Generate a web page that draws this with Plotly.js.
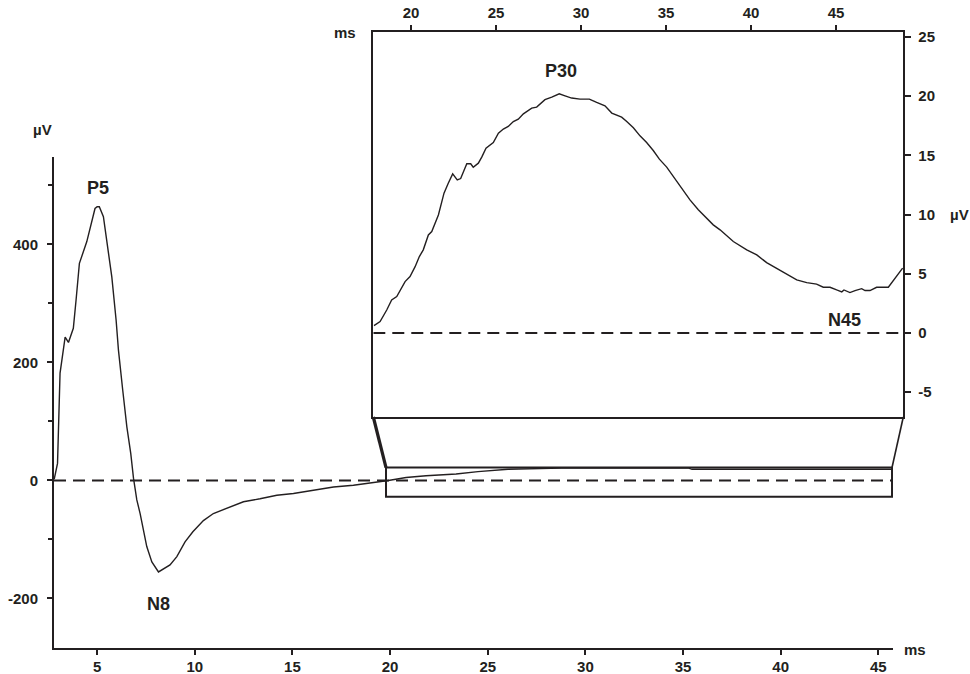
<!DOCTYPE html>
<html>
<head>
<meta charset="utf-8">
<script src="https://cdn.plot.ly/plotly-3.0.1.min.js"></script>
<style>
  html, body { margin: 0; padding: 0; background: #ffffff; }
  #chart { width: 970px; height: 674px; }
  #chart .xtick text, #chart .ytick text, #chart .x2tick text, #chart .y2tick text { font-weight: 700 !important; }
</style>
</head>
<body>
<div id="chart"></div>
<script>
// ---------------- data ----------------
// Main trace: latency (ms) and amplitude (µV)
const mainTime = [2.8, 2.97, 3.1, 3.19, 3.36, 3.53, 3.78, 3.92, 4.09, 4.47, 4.89, 5.0, 5.11, 5.32, 5.52, 5.75, 5.97, 6.09, 6.31, 6.52, 6.72, 6.86, 7.03, 7.2, 7.54, 7.8, 8.14, 8.73, 9.08, 9.5, 9.9, 10.44, 10.95, 11.64, 12.49, 13.34, 14.2, 15.05, 16.07, 17.1, 18.12, 19.15, 19.91, 20.82, 21.84, 23.38, 24.5, 26.04, 28.8, 35.29, 35.46, 45.7];
const mainAmp  = [2, 29, 182, 201, 243, 234, 258, 306, 368, 405, 461, 464, 464, 447, 402, 345, 272, 221, 153, 91, 46, 4, -33, -56, -112, -138, -155, -143, -129, -104, -87, -68, -56, -47, -36, -31, -25, -22, -16, -11, -8, -4, 0, 5, 8, 11, 15, 19, 21, 21, 19, 19];

// Inset trace (zoomed late components)
const insetTime = [17.82, 18.18, 18.57, 18.86, 19.16, 19.65, 19.94, 20.24, 20.49, 20.72, 21.02, 21.22, 21.61, 21.94, 22.19, 22.45, 22.72, 22.92, 23.28, 23.51, 23.66, 23.96, 24.16, 24.41, 24.84, 25.14, 25.43, 25.72, 26.02, 26.31, 26.61, 27.1, 27.39, 27.88, 28.28, 28.72, 29.06, 29.45, 29.94, 30.49, 30.92, 31.41, 31.81, 32.39, 32.69, 33.08, 33.47, 33.86, 34.25, 34.61, 35.04, 35.43, 35.82, 36.41, 36.9, 37.35, 37.78, 38.18, 38.66, 38.96, 39.75, 40.34, 40.92, 41.51, 42.1, 42.69, 43.28, 43.86, 44.25, 44.65, 45.04, 45.34, 45.47, 45.82, 46.12, 46.51, 46.71, 47.0, 47.39, 48.08, 48.92];
const insetAmp  = [0.62, 0.96, 1.94, 2.79, 3.07, 4.34, 4.76, 5.6, 6.45, 7.02, 8.28, 8.56, 9.97, 11.81, 12.65, 13.44, 12.93, 13.04, 14.29, 14.29, 14.0, 14.34, 14.85, 15.61, 16.09, 16.88, 17.22, 17.44, 17.86, 18.06, 18.51, 18.99, 19.08, 19.7, 19.92, 20.2, 20.03, 19.84, 19.75, 19.75, 19.47, 19.19, 18.57, 18.23, 17.86, 17.33, 16.65, 16.09, 15.41, 14.68, 14.01, 13.21, 12.43, 11.24, 10.4, 9.78, 9.13, 8.71, 8.14, 7.72, 7.02, 6.59, 5.94, 5.47, 4.99, 4.48, 4.25, 4.12, 3.86, 3.86, 3.63, 3.47, 3.63, 3.41, 3.58, 3.74, 3.58, 3.58, 3.86, 3.86, 5.47];

// Tick labels
const mainXTicks  = [5, 10, 15, 20, 25, 30, 35, 40, 45];
const mainYTicks  = [-200, 0, 200, 400];
const insetXTicks = [20, 25, 30, 35, 40, 45];
const insetYTicks = [-5, 0, 5, 10, 15, 20, 25];

// Peak labels
const peakNames = ['P5', 'N8'];
const peakX = [5.05, 8.12];
const peakY = [496, -209];
const insetPeakNames = ['P30', 'N45'];
const insetPeakX = [28.82, 45.53];
const insetPeakY = [22.15, 1.1];

// Zoom window shown on the main trace
const zoomX = [19.79, 45.7];
const zoomY = [-27.5, 22];

// ---------------- layout ----------------
const INK = '#231f20';
const FONT = 'Liberation Sans, Arial, Helvetica, sans-serif';
const tickFont = {family: FONT, size: 15, color: INK, weight: 700};
const labelFont = {family: FONT, size: 18, color: INK, weight: 700};
const unitFont = {family: FONT, size: 15, color: INK, weight: 700};

const mainRangeX = [2.79, 45.75];
const mainRangeY = [-283.9, 548.3];
const mainDomX = [0, 0.98014];
const mainDomY = [0, 0.79708];
const insetRangeX = [17.78, 48.96];
const insetRangeY = [-7.1, 25.42];
const insetDomX = [0.37301, 0.99217];
const insetDomY = [0.375, 1.0];

function toPaperX(v) {
  return mainDomX[0] + (v - mainRangeX[0]) / (mainRangeX[1] - mainRangeX[0]) * (mainDomX[1] - mainDomX[0]);
}
function toPaperY(v) {
  return mainDomY[0] + (v - mainRangeY[0]) / (mainRangeY[1] - mainRangeY[0]) * (mainDomY[1] - mainDomY[0]);
}

const traces = [
  {x: mainTime, y: mainAmp, xaxis: 'x', yaxis: 'y', type: 'scatter', mode: 'lines',
   line: {color: INK, width: 1.4}, hoverinfo: 'skip'},
  {x: insetTime, y: insetAmp, xaxis: 'x2', yaxis: 'y2', type: 'scatter', mode: 'lines',
   line: {color: INK, width: 1.4}, hoverinfo: 'skip'}
];

const annotations = [];
peakNames.forEach((n, i) => annotations.push({
  text: n, x: peakX[i], y: peakY[i], xref: 'x', yref: 'y', showarrow: false,
  font: labelFont, xanchor: 'center', yanchor: 'middle'
}));
insetPeakNames.forEach((n, i) => annotations.push({
  text: n, x: insetPeakX[i], y: insetPeakY[i], xref: 'x2', yref: 'y2', showarrow: false,
  font: labelFont, xanchor: 'center', yanchor: 'middle'
}));
annotations.push(
  {text: 'µV', x: -0.014, y: 0.841, xref: 'paper', yref: 'paper', showarrow: false, font: unitFont, xanchor: 'center', yanchor: 'middle'},
  {text: 'ms', x: 1.0058, y: -0.003, xref: 'paper', yref: 'paper', showarrow: false, font: unitFont, xanchor: 'center', yanchor: 'middle'},
  {text: 'ms', x: 0.34, y: 1.0, xref: 'paper', yref: 'paper', showarrow: false, font: unitFont, xanchor: 'center', yanchor: 'middle'},
  {text: 'µV', x: 1.058, y: 0.7045, xref: 'paper', yref: 'paper', showarrow: false, font: unitFont, xanchor: 'center', yanchor: 'middle'}
);

const shapes = [
  // main zero line
  {type: 'line', xref: 'x', yref: 'y', x0: mainRangeX[0], x1: zoomX[1], y0: 0, y1: 0,
   line: {color: INK, width: 2, dash: '12px,7px'}},
  // inset zero line
  {type: 'line', xref: 'x2', yref: 'y2', x0: insetRangeX[0], x1: insetRangeX[1], y0: 0, y1: 0,
   line: {color: INK, width: 2, dash: '12px,7px'}},
  // zoom window
  {type: 'rect', xref: 'x', yref: 'y', x0: zoomX[0], x1: zoomX[1], y0: zoomY[0], y1: zoomY[1],
   line: {color: INK, width: 2}},
  // connectors
  {type: 'line', xref: 'paper', yref: 'paper', x0: insetDomX[0], y0: insetDomY[0],
   x1: toPaperX(zoomX[0]), y1: toPaperY(zoomY[1]), line: {color: INK, width: 3.2}},
  {type: 'line', xref: 'paper', yref: 'paper', x0: insetDomX[1], y0: insetDomY[0],
   x1: toPaperX(zoomX[1]), y1: toPaperY(zoomY[1]), line: {color: INK, width: 1.6}}
];

const layout = {
  width: 970, height: 674,
  margin: {l: 54, r: 60, t: 32, b: 26, pad: 0},
  paper_bgcolor: '#ffffff', plot_bgcolor: 'rgba(0,0,0,0)',
  showlegend: false, hovermode: false,
  font: tickFont,
  xaxis: {
    domain: mainDomX, range: mainRangeX, anchor: 'y',
    tickmode: 'array', tickvals: mainXTicks, ticktext: mainXTicks.map(String),
    ticks: 'outside', ticklen: 5, tickwidth: 2, tickcolor: INK,
    showline: true, linewidth: 2, linecolor: INK,
    showgrid: false, zeroline: false, tickfont: tickFont, ticklabelstandoff: -1
  },
  yaxis: {
    domain: mainDomY, range: mainRangeY, anchor: 'x',
    tickmode: 'array', tickvals: mainYTicks, ticktext: mainYTicks.map(String),
    ticks: 'outside', ticklen: 5, tickwidth: 2, tickcolor: INK,
    minor: {tickmode: 'array', tickvals: [-100, 100, 300, 500], ticks: 'outside', ticklen: 4, tickwidth: 2, tickcolor: INK, showgrid: false},
    showline: true, linewidth: 2, linecolor: INK,
    showgrid: false, zeroline: false, tickfont: tickFont, ticklabelstandoff: 6
  },
  xaxis2: {
    domain: insetDomX, range: insetRangeX, anchor: 'y2', side: 'top',
    tickmode: 'array', tickvals: insetXTicks, ticktext: insetXTicks.map(String),
    ticks: 'outside', ticklen: 5, tickwidth: 2, tickcolor: INK,
    showline: true, mirror: true, linewidth: 2, linecolor: INK,
    showgrid: false, zeroline: false, tickfont: tickFont, ticklabelstandoff: 1
  },
  yaxis2: {
    domain: insetDomY, range: insetRangeY, anchor: 'x2', side: 'right',
    tickmode: 'array', tickvals: insetYTicks, ticktext: insetYTicks.map(String),
    ticks: 'outside', ticklen: 6, tickwidth: 2, tickcolor: INK,
    showline: true, mirror: true, linewidth: 2, linecolor: INK,
    showgrid: false, zeroline: false, tickfont: tickFont, ticklabelstandoff: 4
  },
  annotations: annotations,
  shapes: shapes
};

Plotly.newPlot('chart', traces, layout, {staticPlot: true, displayModeBar: false});
</script>
</body>
</html>
